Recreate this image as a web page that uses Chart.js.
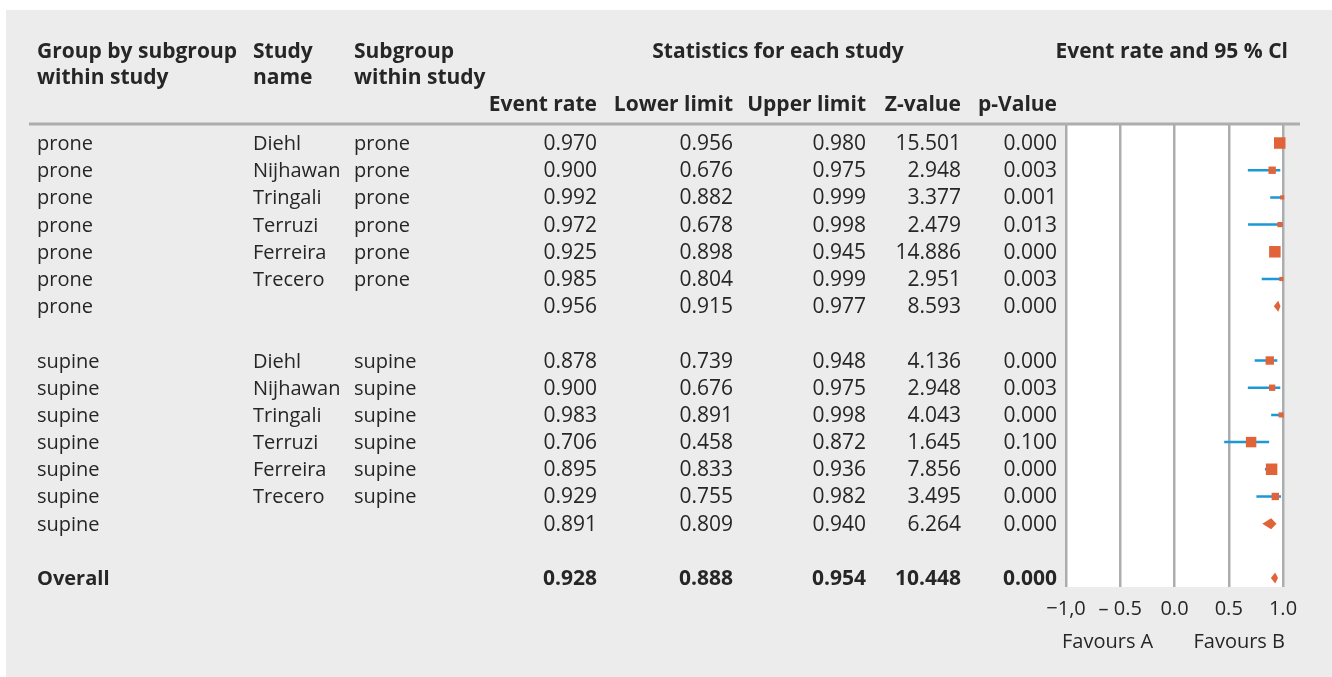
<!DOCTYPE html>
<html>
<head>
<meta charset="utf-8">
<script src="https://cdn.jsdelivr.net/npm/chart.js@4.4.0/dist/chart.umd.min.js"></script>
<style>
  html, body { margin: 0; padding: 0; background: #fff; }
  canvas { display: block; }
</style>
</head>
<body>
<canvas id="forest" width="1332" height="677"></canvas>
<script>
// ── Data ──────────────────────────────────────────────
const groupCol    = ['prone','prone','prone','prone','prone','prone','prone','',
                     'supine','supine','supine','supine','supine','supine','supine','','Overall'];
const studyCol    = ['Diehl','Nijhawan','Tringali','Terruzi','Ferreira','Trecero','','',
                     'Diehl','Nijhawan','Tringali','Terruzi','Ferreira','Trecero','','',''];
const subgroupCol = ['prone','prone','prone','prone','prone','prone','','',
                     'supine','supine','supine','supine','supine','supine','','',''];
const rowKind     = ['study','study','study','study','study','study','summary','blank',
                     'study','study','study','study','study','study','summary','blank','overall'];

const eventRate  = [0.970, 0.900, 0.992, 0.972, 0.925, 0.985, 0.956, null,
                    0.878, 0.900, 0.983, 0.706, 0.895, 0.929, 0.891, null, 0.928];
const lowerLimit = [0.956, 0.676, 0.882, 0.678, 0.898, 0.804, 0.915, null,
                    0.739, 0.676, 0.891, 0.458, 0.833, 0.755, 0.809, null, 0.888];
const upperLimit = [0.980, 0.975, 0.999, 0.998, 0.945, 0.999, 0.977, null,
                    0.948, 0.975, 0.998, 0.872, 0.936, 0.982, 0.940, null, 0.954];
const zValue     = [15.501, 2.948, 3.377, 2.479, 14.886, 2.951, 8.593, null,
                    4.136, 2.948, 4.043, 1.645, 7.856, 3.495, 6.264, null, 10.448];
const pValue     = [0.000, 0.003, 0.001, 0.013, 0.000, 0.003, 0.000, null,
                    0.000, 0.003, 0.000, 0.100, 0.000, 0.000, 0.000, null, 0.000];
// relative study weight (largest = 1), sets the box size
const relWeight  = [1.00, 0.64, 0.36, 0.45, 1.00, 0.36, null, null,
                    0.73, 0.55, 0.45, 0.91, 1.00, 0.64, null, null, null];

const tickLabels = ['\u22121,0', '\u2013 0.5', '0.0', '0.5', '1.0'];

// ── Styles ────────────────────────────────────────────
const FONT    = '"Open Sans", sans-serif';
const TXT     = '#262626';
const PANEL   = '#ebeceb';
const GRID    = '#adadb0';
const ORANGE  = '#e0633a';
const BLUE    = '#1b98d6';
const BOX_MAX = 11.5;

const studyRows = rowKind.map((k, i) => k === 'study' ? i : -1).filter(i => i >= 0);

const ciPoints = [];
studyRows.forEach(i => {
  ciPoints.push({ x: lowerLimit[i], y: i }, { x: upperLimit[i], y: i }, { x: null, y: null });
});

const boxPoints = studyRows.map(i => ({ x: eventRate[i], y: i, w: relWeight[i] }));

function fmt(v) { return v === null ? '' : v.toFixed(3); }

// background panel, white plot area, header and table text
const tablePlugin = {
  id: 'forestTable',
  beforeDraw(chart) {
    const { ctx, chartArea: a } = chart;
    ctx.save();
    ctx.fillStyle = '#fff';
    ctx.fillRect(0, 0, chart.width, chart.height);
    ctx.fillStyle = PANEL;
    ctx.fillRect(6, 10, chart.width - 6, chart.height - 10);
    ctx.fillStyle = '#fff';
    ctx.fillRect(a.left, a.top, a.right - a.left, a.bottom - a.top);

    // header rule
    ctx.strokeStyle = GRID;
    ctx.lineWidth = 3;
    ctx.beginPath();
    ctx.moveTo(29, a.top);
    ctx.lineTo(1300, a.top);
    ctx.stroke();

    ctx.fillStyle = TXT;
    ctx.textBaseline = 'alphabetic';
    ctx.font = 'bold 21px ' + FONT;
    const head = (t, x, y, align) => { ctx.textAlign = align; ctx.fillText(t, x, y); };
    head('Group by subgroup', 37, 58, 'left');
    head('within study', 37, 84, 'left');
    head('Study', 253, 58, 'left');
    head('name', 253, 84, 'left');
    head('Subgroup', 354, 58, 'left');
    head('within study', 354, 84, 'left');
    head('Statistics for each study', 778, 58, 'center');
    head('Event rate and 95 % Cl', 1288, 58, 'right');
    head('Event rate', 597, 111, 'right');
    head('Lower limit', 733, 111, 'right');
    head('Upper limit', 866, 111, 'right');
    head('Z-value', 961, 111, 'right');
    head('p-Value', 1057, 111, 'right');

    const yScale = chart.scales.y;
    rowKind.forEach((kind, i) => {
      if (kind === 'blank') return;
      const y = yScale.getPixelForValue(i) + 7;
      const bold = kind === 'overall' ? 'bold ' : '';
      ctx.font = bold + '20px ' + FONT;
      ctx.textAlign = 'left';
      ctx.fillText(groupCol[i], 37, y);
      ctx.fillText(studyCol[i], 253, y);
      ctx.fillText(subgroupCol[i], 354, y);
      ctx.font = bold + '21px ' + FONT;
      ctx.textAlign = 'right';
      ctx.fillText(fmt(eventRate[i]), 597, y);
      ctx.fillText(fmt(lowerLimit[i]), 733, y);
      ctx.fillText(fmt(upperLimit[i]), 866, y);
      ctx.fillText(fmt(zValue[i]), 961, y);
      ctx.fillText(fmt(pValue[i]), 1057, y);
    });

    // favours labels under the axis
    ctx.font = '20px ' + FONT;
    ctx.textAlign = 'left';
    ctx.fillText('Favours A', a.left - 4, 648);
    ctx.textAlign = 'right';
    ctx.fillText('Favours B', a.right + 2, 648);
    ctx.restore();
  },
  afterDatasetsDraw(chart) {
    // summary diamonds spanning the confidence interval
    const { ctx } = chart;
    const xs = chart.scales.x, ys = chart.scales.y;
    ctx.save();
    ctx.fillStyle = ORANGE;
    rowKind.forEach((kind, i) => {
      if (kind !== 'summary' && kind !== 'overall') return;
      const yc = ys.getPixelForValue(i);
      const xl = xs.getPixelForValue(lowerLimit[i]);
      const xm = xs.getPixelForValue(eventRate[i]);
      const xh = xs.getPixelForValue(upperLimit[i]);
      ctx.beginPath();
      ctx.moveTo(xl, yc);
      ctx.lineTo(xm, yc - 5.5);
      ctx.lineTo(xh, yc);
      ctx.lineTo(xm, yc + 5.5);
      ctx.closePath();
      ctx.fill();
    });
    ctx.restore();
  }
};

new Chart(document.getElementById('forest'), {
  type: 'scatter',
  data: {
    datasets: [
      {
        label: 'Event rate',
        data: boxPoints,
        pointStyle: 'rect',
        pointRadius: c => (c.raw ? c.raw.w * BOX_MAX / (2 * Math.SQRT1_2) : 0),
        pointHoverRadius: c => (c.raw ? c.raw.w * BOX_MAX / (2 * Math.SQRT1_2) : 0),
        backgroundColor: ORANGE,
        borderWidth: 0,
        clip: 10
      },
      {
        type: 'line',
        label: '95 % CI',
        data: ciPoints,
        borderColor: BLUE,
        borderWidth: 2.5,
        pointRadius: 0,
        spanGaps: false,
        fill: false,
        clip: 10
      }
    ]
  },
  options: {
    responsive: false,
    devicePixelRatio: 1,
    animation: false,
    layout: { padding: { left: 1066, right: 49, top: 124, bottom: 46 } },
    plugins: { legend: { display: false }, tooltip: { enabled: false } },
    scales: {
      x: {
        type: 'linear',
        min: -1, max: 1,
        ticks: {
          stepSize: 0.5,
          padding: 10,
          color: TXT,
          font: { family: FONT, size: 20 },
          callback: (v, idx) => tickLabels[idx]
        },
        grid: { color: GRID, lineWidth: 2.5, drawTicks: false },
        border: { display: false }
      },
      y: {
        type: 'linear',
        min: -0.7, max: 16.33,
        reverse: true,
        display: false
      }
    }
  },
  plugins: [tablePlugin]
});
</script>
</body>
</html>
